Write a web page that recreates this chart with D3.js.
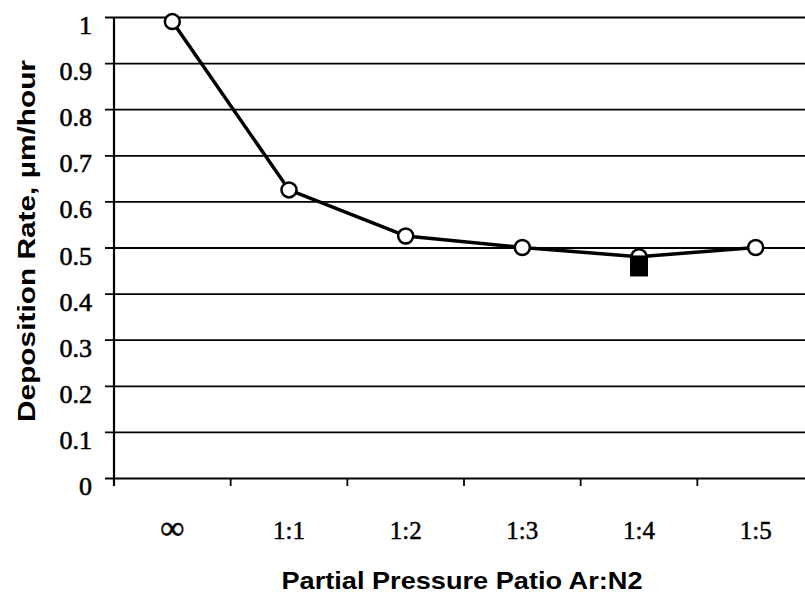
<!DOCTYPE html>
<html>
<head>
<meta charset="utf-8">
<script src="https://cdn.jsdelivr.net/npm/d3@7"></script>
<style>
  html, body { margin: 0; padding: 0; background: #fff; }
  svg { display: block; }
</style>
</head>
<body>
<svg id="chart" width="805" height="594"></svg>
<script>
// ---- data ----
const categories = ["∞", "1:1", "1:2", "1:3", "1:4", "1:5"];
const rateValues = [0.99, 0.625, 0.525, 0.50, 0.48, 0.50];
const squareCategories = ["1:4"];
const squareValues = [0.46];
const yTicks = [0, 0.1, 0.2, 0.3, 0.4, 0.5, 0.6, 0.7, 0.8, 0.9, 1];
const yTickLabels = ["0", "0.1", "0.2", "0.3", "0.4", "0.5", "0.6", "0.7", "0.8", "0.9", "1"];
const xTitle = "Partial Pressure Patio Ar:N2";
const yTitle = "Deposition Rate, µm/hour";

(function () {
// ---- layout ----
const svg = d3.select("#chart");
const plotLeft = 114, plotRight = 814, plotTop = 17, plotBottom = 478;

const x = d3.scaleBand().domain(categories).range([plotLeft, plotRight]).paddingInner(0).paddingOuter(0);
const y = d3.scaleLinear().domain([0, 1]).range([plotBottom, plotTop]);

const serif = "'Liberation Serif', 'Times New Roman', Times, serif";
const sans = "'Liberation Sans', Arial, sans-serif";

// gridlines (horizontal, including ticks to the left)
const yAxis = d3.axisLeft(y).tickValues(yTicks).tickSize(-(plotRight - plotLeft)).tickFormat("");
const gy = svg.append("g").attr("transform", `translate(${plotLeft},0)`).call(yAxis);
gy.select(".domain").remove();
gy.selectAll(".tick line").attr("stroke", "#000").attr("stroke-width", 1.8).attr("x1", -9);

// y tick labels
svg.append("g").selectAll("text")
  .data(yTicks)
  .join("text")
  .attr("x", 92)
  .attr("y", d => y(d) + 17)
  .attr("text-anchor", "end")
  .attr("font-family", serif)
  .attr("font-size", 26)
  .attr("fill", "#000")
  .attr("stroke", "#000")
  .attr("stroke-width", 0.6)
  .text((d, i) => yTickLabels[i]);

// y axis line
svg.append("line")
  .attr("x1", plotLeft).attr("x2", plotLeft)
  .attr("y1", plotTop).attr("y2", plotBottom + 8)
  .attr("stroke", "#000").attr("stroke-width", 2.2);

// x axis ticks at band boundaries
const bounds = categories.map(c => x(c)).concat([x(categories[categories.length - 1]) + x.bandwidth()]);
svg.append("g").selectAll("line")
  .data(bounds)
  .join("line")
  .attr("x1", d => d).attr("x2", d => d)
  .attr("y1", plotBottom).attr("y2", plotBottom + 8)
  .attr("stroke", "#000").attr("stroke-width", 1.8);

// x tick labels
svg.append("g").selectAll("text")
  .data(categories)
  .join("text")
  .attr("x", d => x(d) + x.bandwidth() / 2)
  .attr("y", 539)
  .attr("text-anchor", "middle")
  .attr("font-family", serif)
  .attr("font-size", d => d === "∞" ? 34 : 25)
  .attr("fill", "#000")
  .attr("stroke", "#000")
  .attr("stroke-width", 0.5)
  .text(d => d);

// line series
const pts = categories.map((c, i) => ({ c, v: rateValues[i] }));
const line = d3.line().x(d => x(d.c) + x.bandwidth() / 2).y(d => y(d.v));
svg.append("path")
  .datum(pts)
  .attr("d", line)
  .attr("fill", "none")
  .attr("stroke", "#000")
  .attr("stroke-width", 3.5)
  .attr("stroke-linejoin", "round");

// circle markers
svg.append("g").selectAll("circle")
  .data(pts)
  .join("circle")
  .attr("cx", d => x(d.c) + x.bandwidth() / 2)
  .attr("cy", d => y(d.v))
  .attr("r", 7.5)
  .attr("fill", "#fff")
  .attr("stroke", "#000")
  .attr("stroke-width", 2.5);

// filled square markers
const sq = squareCategories.map((c, i) => ({ c, v: squareValues[i] }));
const sqW = 18, sqH = 21;
svg.append("g").selectAll("rect")
  .data(sq)
  .join("rect")
  .attr("x", d => x(d.c) + x.bandwidth() / 2 - sqW / 2)
  .attr("y", d => y(d.v) - sqH / 2)
  .attr("width", sqW)
  .attr("height", sqH)
  .attr("fill", "#000");

// axis titles
svg.append("text")
  .attr("x", (plotLeft + plotRight) / 2 - 2)
  .attr("y", 589)
  .attr("text-anchor", "middle")
  .attr("font-family", sans)
  .attr("font-weight", "bold")
  .attr("font-size", 24)
  .attr("textLength", 361)
  .attr("lengthAdjust", "spacingAndGlyphs")
  .attr("fill", "#000")
  .text(xTitle);

svg.append("text")
  .attr("transform", "translate(35,241) rotate(-90)")
  .attr("text-anchor", "middle")
  .attr("font-family", sans)
  .attr("font-weight", "bold")
  .attr("font-size", 24)
  .attr("textLength", 362)
  .attr("lengthAdjust", "spacingAndGlyphs")
  .attr("fill", "#000")
  .text(yTitle);
})();
</script>
</body>
</html>
